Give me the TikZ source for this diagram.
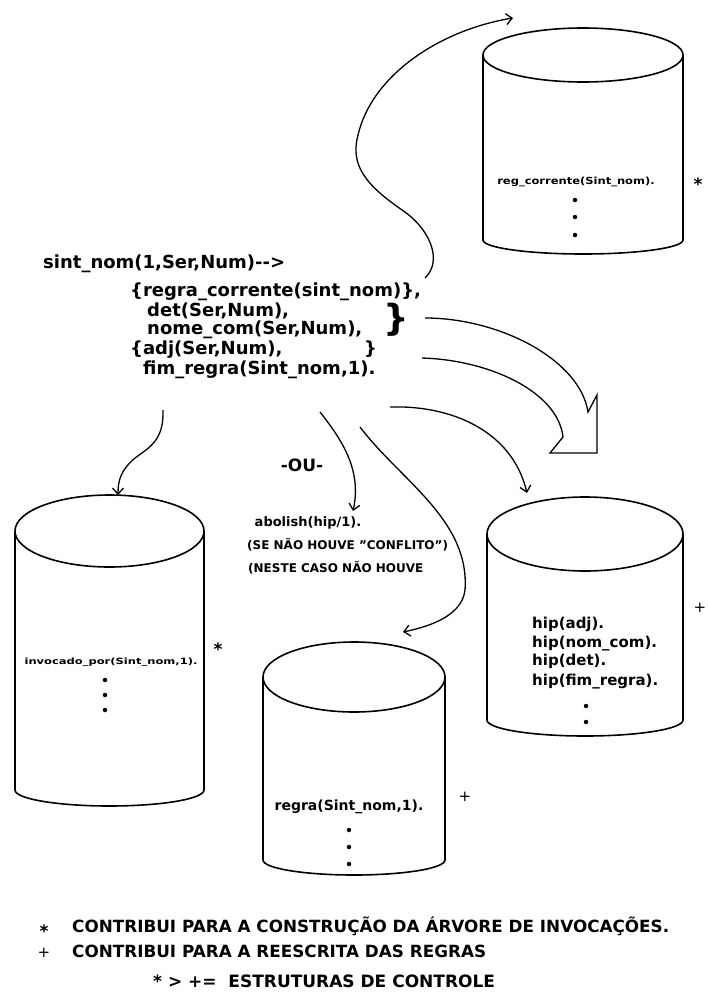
\documentclass[tikz,border=0pt]{standalone}
\usepackage{fontspec}
\setmainfont{DejaVu Sans}
\usetikzlibrary{arrows.meta,calc}
% database drum: centre x, centre y of lid, x radius, y radius of lid, foot of sides, depth of bottom arc
\newcommand\dbcyl[6]{%
  \draw[cylline] (#1,#2) ellipse[x radius=#3, y radius=#4];
  \draw[cylline] ({#1-#3},#2) -- ({#1-#3},#5)
     arc[start angle=180, end angle=0, x radius=#3, y radius=#6] -- ({#1+#3},#2);
}
\begin{document}
\begin{tikzpicture}[x=1pt,y=-1pt,
  cylline/.style={line width=1.6pt},
  code/.style={font=\bfseries\fontsize{18}{18}\selectfont, anchor=base west, inner sep=0pt},
  small/.style={font=\bfseries\fontsize{#1}{#1}\selectfont, inner sep=0pt},
  conn/.style={line width=1.3pt, -{Straight Barb[length=6pt,width=11pt]}},
  dot/.style={circle, fill, inner sep=0pt, minimum size=4.5pt},
  star/.style={font=\bfseries\fontsize{17}{17}\selectfont, inner sep=0pt},
  plus/.style={font=\fontsize{15}{15}\selectfont, inner sep=0pt},
  legend/.style={font=\bfseries\fontsize{#1}{#1}\selectfont, anchor=base west, inner sep=0pt}]
\useasboundingbox (0,0) rectangle (707,1004);

% ---- the grammar rule ----
\node[code] (l1) at (43,268) {sint\_nom(1,Ser,Num)-{}-{}>};
\node[code] (l2) at (130,296) {\{regra\_corrente(sint\_nom)\},};
\node[code] (l3) at (147,316) {det(Ser,Num),};
\node[code] (l4) at (147,334) {nome\_com(Ser,Num),};
\node[code] (l5) at (130,354) {\{adj(Ser,Num),};
\node[code] (l5b) at (364,354) {\}};
\node[code] (l6) at (143,374) {fim\_regra(Sint\_nom,1).};
\node[font=\bfseries\fontsize{36}{36}\selectfont, inner sep=0pt] (br) at (396,320) {\}};

% ---- the four databases ----
\dbcyl{583}{55}{100}{27}{240}{14}
\dbcyl{109.5}{531}{94.5}{36}{790}{16}
\dbcyl{354}{677}{91}{35}{860}{15}
\dbcyl{585}{534}{98}{37}{720}{16}

% reg_corrente
\node[small=11.5] (rc) at (576,182) {\scalebox{1}[0.85]{reg\_corrente(Sint\_nom).}};
\node[dot] (rcd1) at (575,200) {};
\node[dot] (rcd2) at (575,217) {};
\node[dot] (rcd3) at (575,235) {};
\node[star] (rcs) at (698,184) {*};
\coordinate (rcin) at (513,18);

% invocado_por
\node[small=11.5] (inv) at (111,662) {\scalebox{1}[0.75]{invocado\_por(Sint\_nom,1).}};
\node[dot] (invd1) at (105,680) {};
\node[dot] (invd2) at (105,695) {};
\node[dot] (invd3) at (105,710) {};
\node[star] (invs) at (218,649) {*};
\coordinate (invin) at (118,495);

% regra
\node[small=14] (rg) at (349,807) {regra(Sint\_nom,1).};
\node[dot] (rgd1) at (349,830) {};
\node[dot] (rgd2) at (349,847) {};
\node[dot] (rgd3) at (349,864) {};
\node[plus] (rgp) at (465,797) {+};
\coordinate (rgin) at (403,632);

% hip
\node[small=15, anchor=base west] (h1) at (532,628) {hip(adj).};
\node[small=15, anchor=base west] (h2) at (532,647) {hip(nom\_com).};
\node[small=15, anchor=base west] (h3) at (532,665) {hip(det).};
\node[small=15, anchor=base west] (h4) at (532,685) {hip(fim\_regra).};
\node[dot] (hd1) at (586,706) {};
\node[dot] (hd2) at (586,722) {};
\node[plus] (hp) at (700,608) {+};
\coordinate (hin) at (527,493);

% ---- the alternative ----
\node[small=17] (ou) at (302,465) {-OU-};
\node[small=13] (ab) at (308,523) {abolish(hip/1).};
\node[small=12, anchor=base west] (se) at (247,549) {(SE NÃO HOUVE "CONFLITO")};
\node[small=12, anchor=base west] (ne) at (248,572) {(NESTE CASO NÃO HOUVE};
\coordinate (abin) at (353,511);

% ---- connectors ----
\coordinate (rcout) at (425,278);
\draw[conn] (rcout) .. controls (442,262) and (432,232) .. (405,212)
   .. controls (365,185) and (350,165) .. (358,135)
   .. controls (372,75) and (440,30) .. (rcin);

\coordinate (fimA) at (163,410);
\coordinate (fimB) at (320,412);
\coordinate (fimC) at (360,427);
\coordinate (fimD) at (390,407);
\draw[conn] (fimA) .. controls (164,440) and (150,447) .. (135,458)
   .. controls (121,470) and (118,480) .. (invin);
\draw[conn] (fimB) .. controls (342,440) and (362,470) .. (abin);
\draw[conn] (fimC) .. controls (400,480) and (470,520) .. (465,590)
   .. controls (462,615) and (432,626) .. (rgin);
\draw[conn] (fimD) .. controls (450,405) and (512,430) .. (hin);

% hollow bent arrow from the braces to the hypotheses
\coordinate (bigA) at (425,318);
\coordinate (bigB) at (422,358);
\draw[line width=1.3pt, line join=miter] (bigA) .. controls (500,318) and (580,360) .. (588,412)
   -- (597,395) -- (597,453) -- (550,453) -- (563,437)
   .. controls (558,392) and (490,360) .. (bigB);

% ---- legend ----
\node[star] (k1) at (44,931) {*};
\node[legend=16.8] (t1) at (72,932) {CONTRIBUI PARA A CONSTRUÇÃO DA ÁRVORE DE INVOCAÇÕES.};
\node[plus] (k2) at (44,953) {+};
\node[legend=16.8] (t2) at (72,957) {CONTRIBUI PARA A REESCRITA DAS REGRAS};
\node[legend=17] (t3) at (153,987) {* > += \ ESTRUTURAS DE CONTROLE};
\end{tikzpicture}
\end{document}
